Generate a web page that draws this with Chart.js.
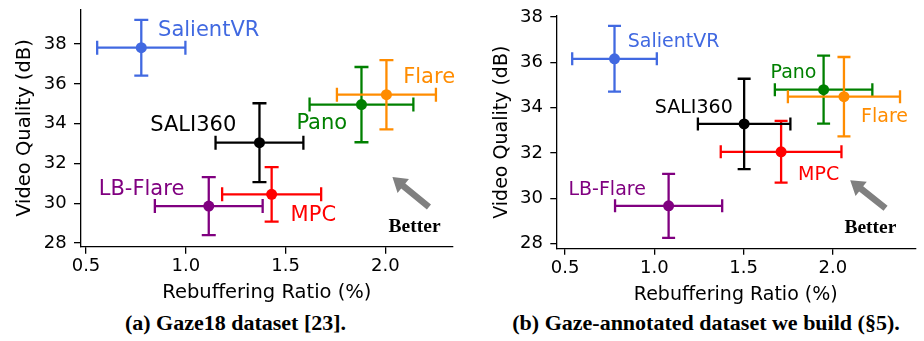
<!DOCTYPE html>
<html><head><meta charset="utf-8">
<script src="https://cdn.jsdelivr.net/npm/chart.js@4/dist/chart.umd.min.js"></script>
<style>
html,body{margin:0;padding:0;background:#fff;}
body{width:924px;height:341px;position:relative;overflow:hidden;}
.panel{position:absolute;top:0;width:462px;height:310px;}
.cap{position:absolute;top:310px;line-height:25px;font-family:"Liberation Serif","Times New Roman",serif;font-weight:bold;font-size:22px;color:#000;white-space:nowrap;transform:translateX(-50%);}
</style></head><body>
<div class="panel" style="left:0"><canvas id="ca" width="462" height="310"></canvas></div>
<div class="panel" style="left:462px"><canvas id="cb" width="462" height="310"></canvas></div>
<div class="cap" style="left:235.5px">(a) Gaze18 dataset [23].</div>
<div class="cap" style="left:706px">(b) Gaze-annotated dataset we build (§5).</div>
<script>
// ---- data ----
const methods = ['SalientVR', 'Flare', 'Pano', 'SALI360', 'MPC', 'LB-Flare'];
const xTicks = [0.5, 1.0, 1.5, 2.0];
const yTicks = [28, 30, 32, 34, 36, 38];

// (a) Gaze18 dataset
const gazeRebuf    = [0.777, 2.005, 1.880, 1.369, 1.430, 1.115];
const gazeRebufErr = [0.221, 0.248, 0.260, 0.220, 0.248, 0.270];
const gazeQual     = [37.82, 35.46, 34.96, 33.05, 30.45, 29.86];
const gazeQualErr  = [1.40, 1.74, 1.89, 1.98, 1.37, 1.46];

// (b) Gaze-annotated dataset
const ownRebuf    = [0.777, 2.062, 1.948, 1.503, 1.710, 1.080];
const ownRebufErr = [0.237, 0.314, 0.273, 0.259, 0.338, 0.300];
const ownQual     = [36.15, 34.48, 34.79, 33.28, 32.05, 29.67];
const ownQualErr  = [1.45, 1.75, 1.50, 1.99, 1.36, 1.41];

// ---- styles ----
const colors = {'SalientVR':'#4169E1','Flare':'#FF8C00','Pano':'#008000','SALI360':'#000000','MPC':'#FF0000','LB-Flare':'#800080'};
const SANS = '"DejaVu Sans", sans-serif';
const SERIF = '"Liberation Serif", "Times New Roman", serif';

function makeAnnot(cfg) {
  return {
    id: 'annot',
    afterDatasetsDraw(chart) {
      const ctx = chart.ctx, xs = chart.scales.x, ys = chart.scales.y;
      ctx.save();
      ctx.textBaseline = 'alphabetic';
      for (const t of cfg.labels) {
        ctx.font = cfg.labelFont;
        ctx.fillStyle = colors[t.name];
        ctx.textAlign = 'left';
        ctx.fillText(t.name, xs.getPixelForValue(t.x), ys.getPixelForValue(t.y));
      }
      ctx.font = 'bold ' + cfg.betterSize + 'px ' + SERIF;
      ctx.fillStyle = '#000';
      ctx.textAlign = 'center';
      ctx.fillText('Better', xs.getPixelForValue(cfg.better.x), ys.getPixelForValue(cfg.better.y));
      // arrow
      const x0 = xs.getPixelForValue(cfg.arrow.x0), y0 = ys.getPixelForValue(cfg.arrow.y0);
      const x1 = xs.getPixelForValue(cfg.arrow.x1), y1 = ys.getPixelForValue(cfg.arrow.y1);
      const a = Math.atan2(y1 - y0, x1 - x0), c = Math.cos(a), s = Math.sin(a);
      const hl = 14, hw = 9, sw = 6.5;
      const bx = x1 - c * hl, by = y1 - s * hl;
      ctx.fillStyle = '#808080';
      ctx.beginPath();
      ctx.moveTo(x0 + s * sw / 2, y0 - c * sw / 2);
      ctx.lineTo(bx + s * sw / 2, by - c * sw / 2);
      ctx.lineTo(bx + s * hw, by - c * hw);
      ctx.lineTo(x1, y1);
      ctx.lineTo(bx - s * hw, by + c * hw);
      ctx.lineTo(bx - s * sw / 2, by + c * sw / 2);
      ctx.lineTo(x0 - s * sw / 2, y0 + c * sw / 2);
      ctx.closePath();
      ctx.fill();
      ctx.restore();
    }
  };
}

function buildDatasets(xs, xe, ys, ye, cap) {
  const ds = [];
  methods.forEach((m, i) => {
    const col = colors[m];
    ds.push({ data: [{x: xs[i], y: ys[i]}], pointRadius: 5.5, pointBackgroundColor: col, pointBorderWidth: 0, order: 0 });
    ds.push({ data: [{x: xs[i] - xe[i], y: ys[i]}, {x: xs[i] + xe[i], y: ys[i]}], showLine: true,
      borderColor: col, borderWidth: 2.3, pointStyle: 'line', pointRotation: 90, pointRadius: cap,
      pointBorderColor: col, pointBorderWidth: 2.3, order: 1 });
    ds.push({ data: [{x: xs[i], y: ys[i] - ye[i]}, {x: xs[i], y: ys[i] + ye[i]}], showLine: true,
      borderColor: col, borderWidth: 2.3, pointStyle: 'line', pointRotation: 0, pointRadius: cap,
      pointBorderColor: col, pointBorderWidth: 2.3, order: 1 });
  });
  return ds;
}

function makeChart(id, g, data, annot) {
  return new Chart(document.getElementById(id), {
    type: 'scatter',
    data: { datasets: data },
    plugins: [makeAnnot(annot)],
    options: {
      responsive: false, animation: false, events: [],
      layout: { padding: { left: 0, top: g.top, right: g.right, bottom: 0 } },
      plugins: { legend: { display: false }, tooltip: { enabled: false } },
      scales: {
        x: {
          type: 'linear', min: g.xmin, max: g.xmax,
          afterBuildTicks: s => { s.ticks = xTicks.map(v => ({ value: v })); },
          afterFit: s => { s.height = g.xh; s.paddingLeft = 0; s.paddingRight = 0; },
          ticks: { font: { family: SANS, size: 18 }, color: '#000', padding: g.xpad, maxRotation: 0, autoSkip: false,
                   callback: v => Number(v).toFixed(1) },
          grid: { drawOnChartArea: false, drawTicks: true, tickLength: g.tl, color: '#000', lineWidth: 1.3 },
          border: { display: true, color: '#000', width: 1.3 },
          title: { display: true, text: 'Rebuffering Ratio (%)', color: '#000', font: { family: SANS, size: g.tf },
                   padding: { top: 0, bottom: g.xtpad } }
        },
        y: {
          type: 'linear', min: g.ymin, max: g.ymax,
          afterBuildTicks: s => { s.ticks = yTicks.map(v => ({ value: v })); },
          afterFit: s => { s.width = g.yw; s.paddingTop = 0; s.paddingBottom = 0; },
          ticks: { font: { family: SANS, size: 18 }, color: '#000', padding: g.ypad, autoSkip: false },
          grid: { drawOnChartArea: false, drawTicks: true, tickLength: g.tl, color: '#000', lineWidth: 1.3 },
          border: { display: true, color: '#000', width: 1.3 },
          title: { display: true, text: 'Video Quality (dB)', color: '#000', font: { family: SANS, size: g.tf },
                   padding: { top: g.ytpad, bottom: 0 } }
        }
      }
    }
  });
}

makeChart('ca',
  { top: 8, right: 5, xmin: 0.475, xmax: 2.337, ymin: 27.82, ymax: 39.75, xh: 63.3, yw: 81, tl: 7,
    xpad: 2.2, ypad: 7.3, tf: 19.5, xtpad: 5.3, ytpad: 13.3 },
  buildDatasets(gazeRebuf, gazeRebufErr, gazeQual, gazeQualErr, 7),
  { labelFont: '21px ' + SANS, betterSize: 19.5,
    labels: [
      { name: 'SalientVR', x: 0.861, y: 38.4 },
      { name: 'Flare', x: 2.089, y: 36.07 },
      { name: 'Pano', x: 1.554, y: 33.73 },
      { name: 'SALI360', x: 0.822, y: 33.62 },
      { name: 'LB-Flare', x: 0.564, y: 30.4 },
      { name: 'MPC', x: 1.525, y: 29.1 }
    ],
    better: { x: 2.146, y: 28.55 },
    arrow: { x0: 2.218, y0: 29.82, x1: 2.035, y1: 31.32 } });

makeChart('cb',
  { top: 15.7, right: 1, xmin: 0.451, xmax: 2.461, ymin: 27.78, ymax: 38.05, xh: 61.3, yw: 94.3, tl: 6,
    xpad: 3.3, ypad: 7.3, tf: 19, xtpad: 3.6, ytpad: 28.6 },
  buildDatasets(ownRebuf, ownRebufErr, ownQual, ownQualErr, 6.5),
  { labelFont: '19px ' + SANS, betterSize: 19.5,
    labels: [
      { name: 'SalientVR', x: 0.851, y: 36.65 },
      { name: 'Pano', x: 1.651, y: 35.29 },
      { name: 'Flare', x: 2.158, y: 33.37 },
      { name: 'SALI360', x: 1.003, y: 33.74 },
      { name: 'MPC', x: 1.805, y: 30.81 },
      { name: 'LB-Flare', x: 0.519, y: 30.14 }
    ],
    better: { x: 2.21, y: 28.46 },
    arrow: { x0: 2.295, y0: 29.56, x1: 2.097, y1: 30.80 } });
</script>
</body></html>
